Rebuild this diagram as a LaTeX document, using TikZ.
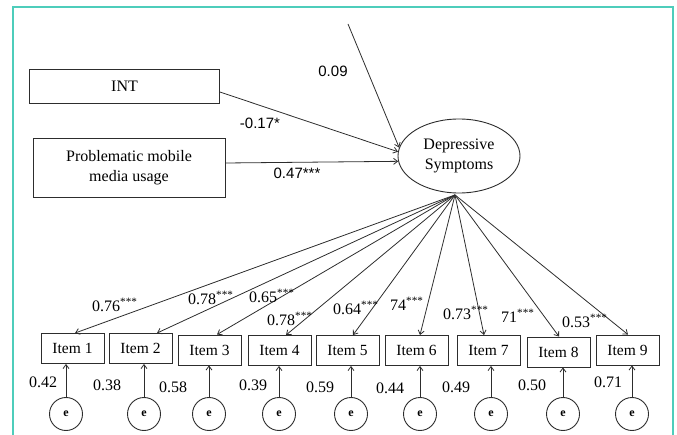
\documentclass[tikz,border=0pt]{standalone}
\usepackage{fontspec}
\setmainfont{Liberation Serif}
\newfontfamily\sansf{Liberation Sans}
\usetikzlibrary{arrows.meta,shapes.geometric}
\definecolor{framecol}{RGB}{78,205,187}
\definecolor{ink}{RGB}{45,45,45}
\begin{document}
\begin{tikzpicture}[x=1pt,y=-1pt,
  every node/.style={text=black},
  box/.style={draw=ink, line width=0.9pt, inner sep=0pt, align=center,
    font=\fontsize{16}{20}\selectfont},
  itembox/.style={draw=ink, line width=0.9pt, inner sep=0pt,
    minimum width=63pt, minimum height=30pt, font=\fontsize{15.5}{18}\selectfont},
  errc/.style={draw=ink, line width=0.9pt, circle, inner sep=0pt,
    minimum size=33pt, font=\fontsize{12}{14}\selectfont\bfseries},
  arr/.style={draw=ink, line width=0.8pt, -{Straight Barb[length=4pt,width=6pt]}},
  val/.style={font=\fontsize{16}{18}\selectfont, inner sep=0pt},
  sval/.style={font=\sansf\fontsize{15}{18}\selectfont, inner sep=0pt},
  load/.style={font=\fontsize{16}{18}\selectfont, inner sep=0pt, anchor=base west}
]
\clip (0,0) rectangle (677,435);
\draw[framecol, line width=2pt] (13,7) rectangle (673,450);

% exogenous boxes
\node[box, minimum width=190pt, minimum height=34pt] (int) at (124.5,86) {INT};
\node[box, minimum width=192pt, minimum height=59pt] (pmu) at (129,167.5)
  {Problematic mobile\\media usage};
\node[draw=ink, line width=0.9pt, ellipse, minimum width=122pt, minimum height=74pt,
  inner sep=0pt, align=center, font=\fontsize{16}{20}\selectfont] (ds) at (459,156)
  {Depressive\\Symptoms};

\coordinate (z0) at (348,24);
\draw[arr] (z0) -- (ds.172);
\draw[arr] ([yshift=-6pt]int.east) -- (ds.176);
\draw[arr] ([yshift=4.5pt]pmu.east) -- (ds.185);

\node[sval] (l09) at (333,71) {0.09};
\node[sval] (l17) at (260,123) {-0.17*};
\node[sval] (l47) at (297,173) {0.47***};

% items
\node[itembox] (i1) at (72.5,348.5) {Item 1};
\node[itembox] (i2) at (140.5,348.5) {Item 2};
\node[itembox] (i3) at (209.5,350) {Item 3};
\node[itembox] (i4) at (279.5,350.5) {Item 4};
\node[itembox] (i5) at (347.5,350.5) {Item 5};
\node[itembox] (i6) at (416.5,350.5) {Item 6};
\node[itembox] (i7) at (488.5,350.5) {Item 7};
\node[itembox] (i8) at (558.5,352) {Item 8};
\node[itembox] (i9) at (627.5,350) {Item 9};

% loadings
\coordinate (src) at ([xshift=-4pt,yshift=-1.5pt]ds.south);
\draw[arr] (src) -- ([xshift=2.5pt]i1.north);
\draw[arr] (src) -- ([xshift=16.5pt]i2.north);
\draw[arr] (src) -- ([xshift=7.5pt]i3.north);
\draw[arr] (src) -- ([xshift=6.5pt]i4.north);
\draw[arr] (src) -- ([xshift=5.5pt]i5.north);
\draw[arr] (src) -- ([xshift=3.5pt]i6.north);
\draw[arr] (src) -- ([xshift=-4.5pt]i7.north);
\draw[arr] (src) -- ([xshift=0.5pt]i8.north);
\draw[arr] (src) -- ([xshift=0.5pt]i9.north);

\node[load] (a1) at (92,311.5) {0.76\textsuperscript{***}};
\node[load] (a2) at (188,304.5) {0.78\textsuperscript{***}};
\node[load] (a3) at (249,302.5) {0.65\textsuperscript{***}};
\node[load] (a4) at (267,325.5) {0.78\textsuperscript{***}};
\node[load] (a5) at (333,314.5) {0.64\textsuperscript{***}};
\node[load] (a6) at (390,310.5) {74\textsuperscript{***}};
\node[load] (a7) at (443,319.5) {0.73\textsuperscript{***}};
\node[load] (a8) at (501,322.5) {71\textsuperscript{***}};
\node[load] (a9) at (562,327.5) {0.53\textsuperscript{***}};

% errors
\foreach \n/\x in {1/66,2/144,3/209,4/279,5/351,6/420,7/491,8/563,9/632}{
  \node[errc] (e\n) at (\x,414) {e};
  \draw[arr] (e\n.north) -- (e\n |- i\n.south);
}

\node[val] (r1) at (43,382) {0.42};
\node[val] (r2) at (107,385) {0.38};
\node[val] (r3) at (173,387) {0.58};
\node[val] (r4) at (253,385) {0.39};
\node[val] (r5) at (320,387) {0.59};
\node[val] (r6) at (390,388) {0.44};
\node[val] (r7) at (456,387) {0.49};
\node[val] (r8) at (532,385) {0.50};
\node[val] (r9) at (608,382) {0.71};
\end{tikzpicture}
\end{document}
